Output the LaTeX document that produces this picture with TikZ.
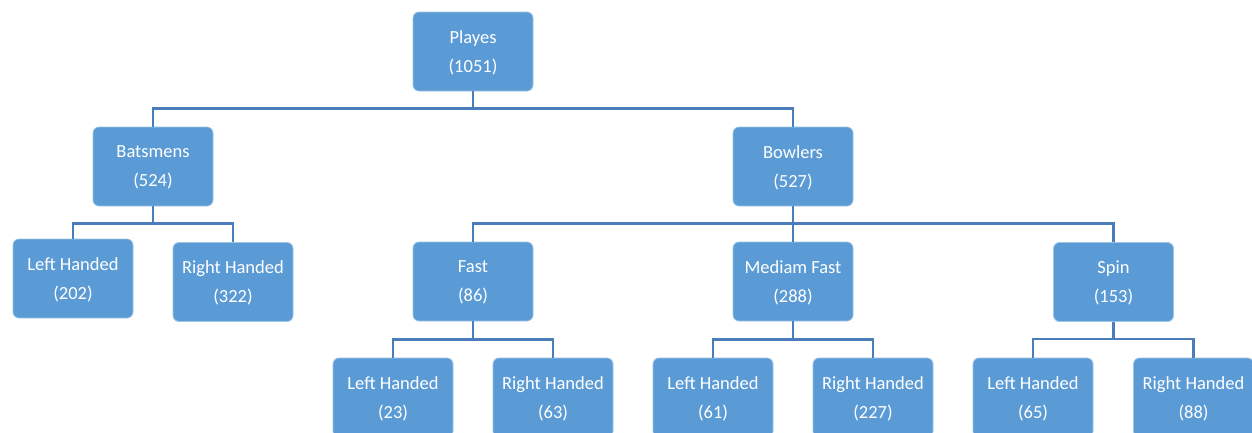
\documentclass[tikz,border=0pt]{standalone}
\usepackage{fontspec}
\setmainfont{Carlito}
\definecolor{boxfill}{HTML}{5B9BD5}
\definecolor{boxedge}{HTML}{9DC3E6}
\definecolor{linkblue}{HTML}{4A7EBB}
\tikzset{
  unit/.style={rectangle, rounded corners=6pt, fill=boxfill, draw=boxedge, line width=0.8pt,
    minimum width=120pt, minimum height=79pt, align=center, text=white,
    text depth=-2pt, font=\fontsize{18.5}{29}\selectfont},
  link/.style={draw=linkblue, line width=2.8pt}
}
\begin{document}
\begin{tikzpicture}[x=1pt, y=-1pt]
\useasboundingbox (0,0) rectangle (1252,432);

% top level
\node[unit] (root) at (473,51.5) {Playes\\(1051)};

% second level
\node[unit] (bat) at (153,166.5) {Batsmens\\(524)};
\node[unit] (bowl) at (793,166.5) {Bowlers\\(527)};

% batsmen split
\node[unit] (batL) at (73,278.5) {Left Handed\\(202)};
\node[unit] (batR) at (233,282) {Right Handed\\(322)};

% bowler types
\node[unit] (fast) at (473,281.5) {Fast\\(86)};
\node[unit] (med) at (793,281.5) {Mediam Fast\\(288)};
\node[unit] (spin) at (1113.5,282) {Spin\\(153)};

% handedness per bowler type
\node[unit] (fastL) at (393,397.5) {Left Handed\\(23)};
\node[unit] (fastR) at (553,397.5) {Right Handed\\(63)};
\node[unit] (medL) at (713,397.5) {Left Handed\\(61)};
\node[unit] (medR) at (873,397.5) {Right Handed\\(227)};
\node[unit] (spinL) at (1033,397.5) {Left Handed\\(65)};
\node[unit] (spinR) at (1193.5,397.5) {Right Handed\\(88)};

% connectors
\foreach \c in {bat,bowl} \draw[link] (root.south) -- ++(0,17) -| (\c.north);
\foreach \c in {batL,batR} \draw[link] (bat.south) -- ++(0,17) -| (\c.north);
\foreach \c in {fast,med,spin} \draw[link] (bowl.south) -- ++(0,17) -| (\c.north);
\foreach \c in {fastL,fastR} \draw[link] (fast.south) -- ++(0,18) -| (\c.north);
\foreach \c in {medL,medR} \draw[link] (med.south) -- ++(0,18) -| (\c.north);
\foreach \c in {spinL,spinR} \draw[link] (spin.south) -- ++(0,17) -| (\c.north);
\end{tikzpicture}
\end{document}
